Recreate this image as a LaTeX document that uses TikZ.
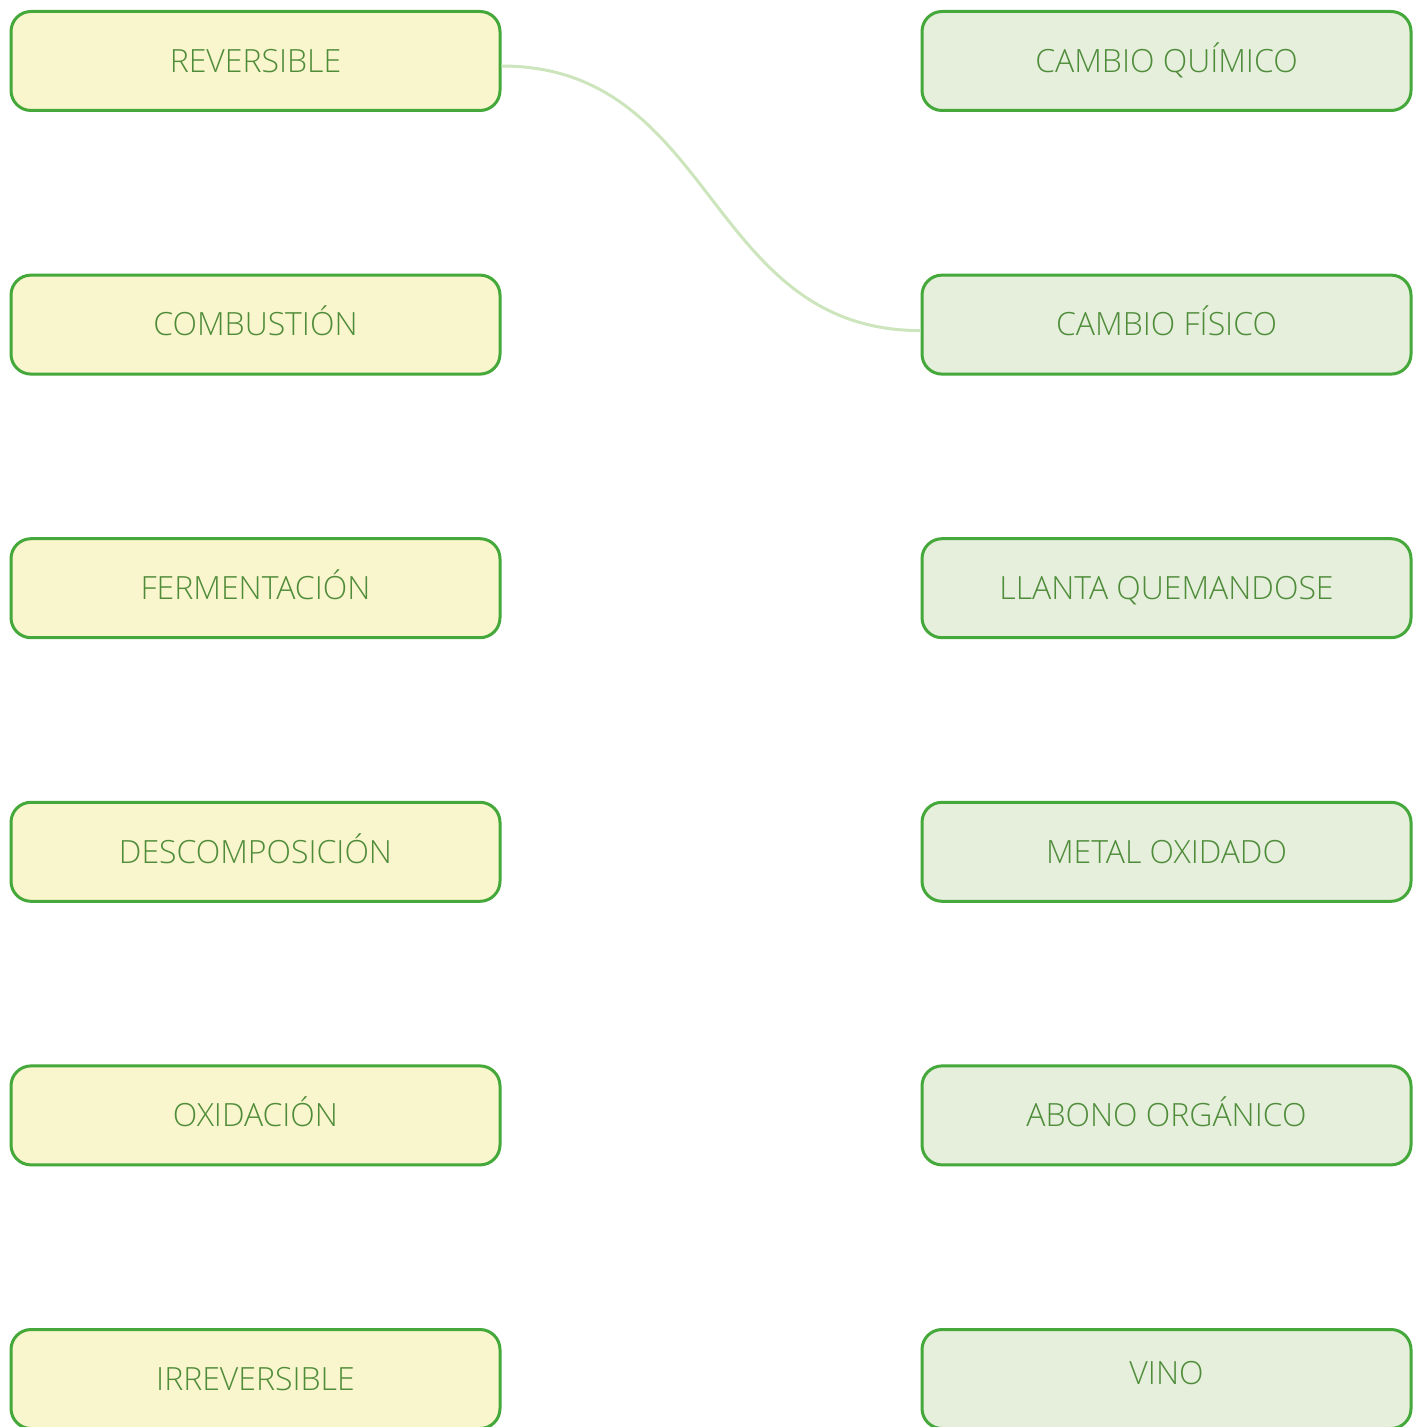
\documentclass[tikz,border=0pt]{standalone}
\usepackage{fontspec}
\IfFontExistsTF{Open Sans Light}{\setmainfont{Open Sans Light}}{\setmainfont{Open Sans}}
\usetikzlibrary{positioning}
\definecolor{boxline}{HTML}{44A83A}
\definecolor{boxtext}{HTML}{4F8C3A}
\definecolor{yellowfill}{HTML}{F9F5CC}
\definecolor{greenfill}{HTML}{E5EFDC}
\definecolor{linkline}{HTML}{CDE5BC}
\tikzset{box/.style={draw=boxline,line width=1.5pt,rounded corners=10pt,
        minimum width=244.5pt,minimum height=49.5pt,inner sep=0pt,
        text height=11.4pt,text depth=0pt,
        text=boxtext,font=\fontsize{16}{19}\selectfont},
    leftbox/.style={box,fill=yellowfill},
    rightbox/.style={box,fill=greenfill}}

\begin{document}
\begin{tikzpicture}[x=0.5pt,y=-0.5pt,node distance=131.8pt]
    \useasboundingbox (0,0) rectangle (1421,1427);
    \clip (0,0) rectangle (1421,1427);
    % left column
    \node[leftbox] (rev) at (255.5,61) {REVERSIBLE};
    \node[leftbox] (comb) [below of=rev] {COMBUSTIÓN};
    \node[leftbox] (ferm) [below of=comb] {FERMENTACIÓN};
    \node[leftbox] (desc) [below of=ferm] {DESCOMPOSICIÓN};
    \node[leftbox] (oxi) [below of=desc] {OXIDACIÓN};
    \node[leftbox] (irr) [below of=oxi] {IRREVERSIBLE};
    % right column
    \node[rightbox] (quim) at (1166.5,61) {CAMBIO QUÍMICO};
    \node[rightbox] (fis) [below of=quim] {CAMBIO FÍSICO};
    \node[rightbox] (llanta) [below of=fis] {LLANTA QUEMANDOSE};
    \node[rightbox] (metal) [below of=llanta] {METAL OXIDADO};
    \node[rightbox] (abono) [below of=metal] {ABONO ORGÁNICO};
    \node[rightbox] (vino) [below of=abono] {\raisebox{3pt}{VINO}};
    % link
    \draw[linkline,line width=1.5pt] ([yshift=-2.5pt]rev.east)
        .. controls +(215,0) and +(-215,0) .. ([yshift=-3pt]fis.west);
\end{tikzpicture}
\end{document}
